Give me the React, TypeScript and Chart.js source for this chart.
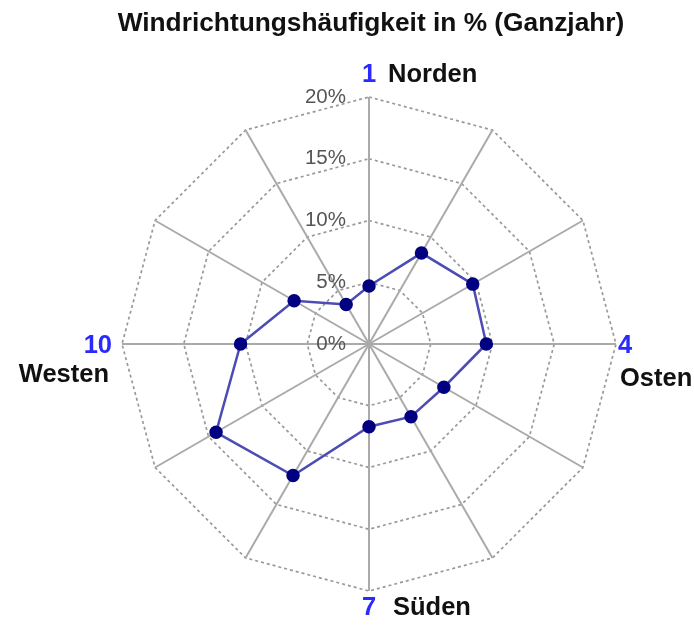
import React, { useEffect, useRef } from "react";
import { Chart, registerables } from "chart.js";

Chart.register(...registerables);

const directions = ["1", "2", "3", "4", "5", "6", "7", "8", "9", "10", "11", "12"];
const frequencies = [4.7, 8.5, 9.7, 9.5, 7.0, 6.8, 6.7, 12.3, 14.3, 10.4, 7.0, 3.7];
const tickValues = [0, 5, 10, 15, 20];
const titleText = "Windrichtungshäufigkeit in % (Ganzjahr)";
const namedIndices = [0, 3, 6, 9];
const namedLabels = ["Norden", "Osten", "Süden", "Westen"];

const FONT = "Arial, 'Liberation Sans', Helvetica, sans-serif";

const customPlugin = {
  id: "customText",
  afterDraw(chart: any) {
    const ctx = chart.ctx;
    const scale = chart.scales.r;
    ctx.save();
    // title
    ctx.fillStyle = "#111";
    ctx.font = `bold 26.3px ${FONT}`;
    ctx.textAlign = "center";
    ctx.textBaseline = "middle";
    ctx.fillText(titleText, 371, 24);

    // tick labels
    ctx.font = `20.5px ${FONT}`;
    ctx.fillStyle = "#555";
    ctx.textAlign = "right";
    ctx.textBaseline = "middle";
    tickValues.forEach((v) => {
      const d = scale.getDistanceFromCenterForValue(v);
      ctx.fillText(v + "%", scale.xCenter - 23, scale.yCenter - d);
    });

    // point labels
    const outer = scale.getDistanceFromCenterForValue(20);
    namedIndices.forEach((idx, k) => {
      const num = directions[idx];
      const name = namedLabels[k];
      const p = scale.getPointPosition(idx, outer);
      ctx.font = `bold 25.5px ${FONT}`;
      ctx.textBaseline = "middle";
      if (idx === 0) {
        ctx.fillStyle = "#2a2aff";
        ctx.textAlign = "center";
        ctx.fillText(num, p.x, p.y - 22);
        ctx.fillStyle = "#111";
        ctx.textAlign = "left";
        ctx.fillText(name, p.x + 19, p.y - 22);
      } else if (idx === 6) {
        ctx.fillStyle = "#2a2aff";
        ctx.textAlign = "center";
        ctx.fillText(num, p.x, p.y + 17);
        ctx.fillStyle = "#111";
        ctx.textAlign = "left";
        ctx.fillText(name, p.x + 24, p.y + 17);
      } else if (idx === 3) {
        ctx.fillStyle = "#2a2aff";
        ctx.textAlign = "left";
        ctx.fillText(num, p.x + 2, p.y + 2);
        ctx.fillStyle = "#111";
        ctx.fillText(name, p.x + 4, p.y + 35);
      } else {
        ctx.fillStyle = "#2a2aff";
        ctx.textAlign = "right";
        ctx.fillText(num, p.x - 10, p.y + 2);
        ctx.fillStyle = "#111";
        ctx.fillText(name, p.x - 13, p.y + 31);
      }
    });
    ctx.restore();
  },
};

export default function App() {
  const canvasRef = useRef<HTMLCanvasElement | null>(null);

  useEffect(() => {
    if (!canvasRef.current) return;
    const chart = new Chart(canvasRef.current, {
      type: "radar",
      data: {
        labels: directions,
        datasets: [
          {
            data: frequencies,
            borderColor: "#4c4cb4",
            borderWidth: 2.5,
            backgroundColor: "rgba(0,0,0,0)",
            fill: false,
            pointBackgroundColor: "#000080",
            pointBorderColor: "#000080",
            pointRadius: 5.5,
            pointStyle: "circle",
            tension: 0,
          },
        ],
      },
      options: {
        animation: false,
        responsive: false,
        maintainAspectRatio: false,
        layout: { padding: { left: 122, right: 78, top: 97, bottom: 35 } },
        plugins: {
          legend: { display: false },
          title: { display: false },
          tooltip: { enabled: false },
        },
        scales: {
          r: {
            min: 0,
            max: 20,
            beginAtZero: true,
            ticks: { stepSize: 5, display: false },
            pointLabels: { display: false },
            grid: {
              circular: false,
              color: "#999999",
              lineWidth: 1.7,
              borderDash: [3, 3],
            } as any,
            border: { dash: [3, 3] } as any,
            angleLines: { color: "#aaaaaa", lineWidth: 2 },
          },
        },
      },
      plugins: [customPlugin],
    });
    return () => chart.destroy();
  }, []);

  return (
    <div style={{ position: "fixed", left: 0, top: 0, width: 694, height: 626, background: "#fff" }}>
      <canvas ref={canvasRef} width={694} height={626} style={{ width: 694, height: 626 }} />
    </div>
  );
}
